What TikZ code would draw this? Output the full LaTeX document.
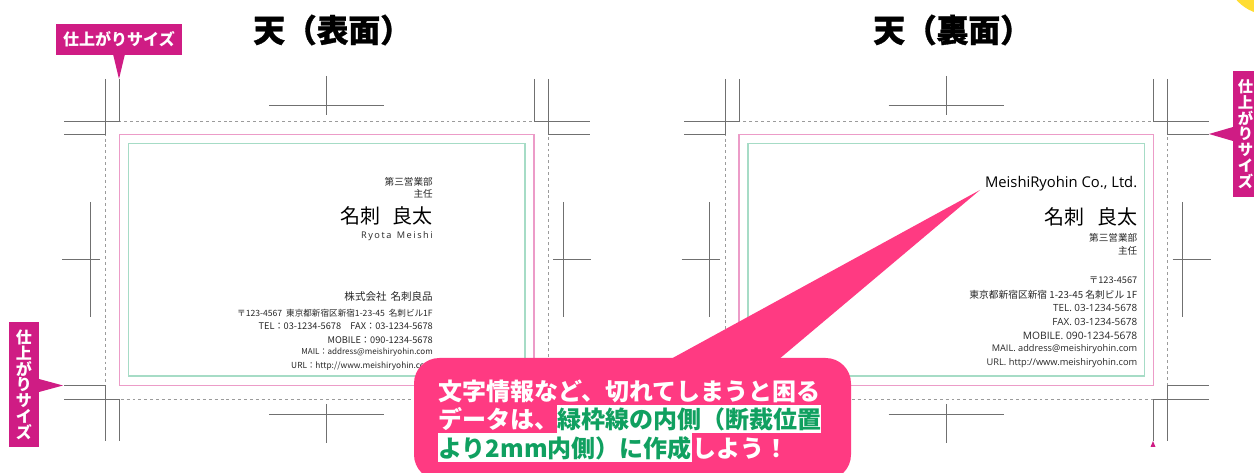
\documentclass[tikz,border=0pt]{standalone}
\usepackage{fontspec}
\setmainfont{Noto Sans CJK JP}
\newfontfamily\latinfont{Open Sans}
\usepackage{tikz}
\usetikzlibrary{positioning}
\definecolor{tagpink}{HTML}{CF1C84}
\definecolor{notepink}{HTML}{FF3A82}
\definecolor{trimpink}{HTML}{EC9CC8}
\definecolor{safegreen}{HTML}{A6DCC6}
\definecolor{markgray}{HTML}{707070}
\definecolor{notegreen}{HTML}{10A060}
\definecolor{corneryellow}{HTML}{FFDD33}
\tikzset{
	cropmark/.style={draw=markgray, line width=0.5pt},
	bleedline/.style={draw=markgray!70, line width=0.5pt, dash pattern=on 2.2pt off 2.2pt},
	title/.style={anchor=west, inner sep=0pt, font=\fontsize{23.8}{23.8}\selectfont\bfseries\addfontfeature{FakeBold=1}},
	tagbox/.style={fill=tagpink, text=white, inner sep=0pt, align=center, font=\fontsize{12}{12}\selectfont\bfseries},
	cardline/.style={anchor=east, inner sep=0pt, text=black!85, font=\fontsize{6.9}{6.9}\selectfont},
	cardsmall/.style={cardline, font=\fontsize{7.2}{7.2}\selectfont},
	cardname/.style={cardline, text=black, font=\fontsize{15}{15}\selectfont},
	cardlatin/.style={cardline, font=\fontsize{7.4}{7.4}\selectfont\latinfont},
	notetext/.style={anchor=west, inner sep=0pt, text=white, text height=18pt, text depth=3.2pt, font=\fontsize{18}{18}\selectfont\bfseries},
	notemark/.style={notetext, text=notegreen, fill=white}
}
\begin{document}
\begin{tikzpicture}[x=0.75pt, y=-0.75pt]
	\clip (0,0) rectangle (1254,473);

	\fill[corneryellow] (1270,-30) circle (45);

	% frames and marks, same for both sides
	\foreach \sideshift in {0,619.5} {
		\begin{scope}[xshift=\sideshift*0.75pt]
			\draw[bleedline] (105.5,121) rectangle (548,399);
			\draw[draw=trimpink, line width=0.8pt] (119.5,134.5) rectangle (534,385.5);
			\draw[draw=safegreen, line width=0.8pt] (128.5,143.5) rectangle (525,376);

			\draw[cropmark] (105.5,79) -- (105.5,134.5) -- (64,134.5);
			\draw[cropmark] (119.5,79) -- (119.5,121) -- (64,121);
			\draw[cropmark] (548,79) -- (548,134.5) -- (589.5,134.5);
			\draw[cropmark] (534,79) -- (534,121) -- (589.5,121);
			\draw[cropmark] (105.5,441) -- (105.5,385.5) -- (64,385.5);
			\draw[cropmark] (119.5,441) -- (119.5,399) -- (64,399);
			\draw[cropmark] (548,441) -- (548,385.5) -- (589.5,385.5);
			\draw[cropmark] (534,441) -- (534,399) -- (589.5,399);

			\draw[cropmark] (326.5,76) -- (326.5,115) (269,105) -- (384,105);
			\draw[cropmark] (326.5,404) -- (326.5,443) (269,414) -- (384,414);
			\draw[cropmark] (90,202) -- (90,317) (62,259.5) -- (100,259.5);
			\draw[cropmark] (563,202) -- (563,317) (553,259.5) -- (591,259.5);
		\end{scope}
	}

	\node[title] (frontTitle) at (253,30) {天（表面）};
	\node[title] (backTitle) at (873,30) {天（裏面）};

	% tags
	\node[tagbox, minimum width=94.5pt, minimum height=23pt] (topTag) at (119,39.2) {仕上がりサイズ};
	\fill[tagpink] (113,54) -- (125,54) -- (119,79) -- cycle;
	\node[tagbox, minimum width=22.5pt, minimum height=94pt] (leftTag) at (24,384.7) {仕\\[-.1pt]上\\[-.1pt]が\\[-.1pt]り\\[-.1pt]サ\\[-.1pt]イ\\[-.1pt]ズ};
	\fill[tagpink] (39,379) -- (39,392) -- (63,385.5) -- cycle;
	\fill[tagpink] (1233,71) rectangle (1254,197);
	\node[tagbox, fill=none, font=\fontsize{11.5}{12}\selectfont\bfseries] (rightTag) at (1245.5,134) {仕\\[-.1pt]上\\[-.1pt]が\\[-.1pt]り\\[-.1pt]サ\\[-.1pt]イ\\[-.1pt]ズ};
	\fill[tagpink] (1233,127) -- (1233,141) -- (1209,134) -- cycle;
	\fill[tagpink] (1153,441) -- (1150.5,447) -- (1155.5,447) -- cycle;

	% front card
	\node[cardsmall] (frontDept) at (433,182) {第三営業部};
	\node[cardsmall] (frontRole) at (433,194) {主任};
	\node[cardname] (frontName) at (433,216) {名刺\hspace{9.5pt}良太};
	\node[cardline, font=\fontsize{6.9}{6.9}\selectfont\latinfont] (frontRoman) at (433,236) {R\,y\,o\,t\,a\, \,M\,e\,i\,s\,h\,i};
	\node[cardline, font=\fontsize{7.9}{7.9}\selectfont] (frontCompany) at (433,297) {株式会社\hspace{3pt}名刺良品};
	\node[cardline, font=\fontsize{6.45}{6.45}\selectfont] (frontAddress) at (433,313) {〒123-4567\hspace{3pt}東京都新宿区新宿1-23-45\hspace{3pt}名刺ビル1F};
	\node[cardline] (frontTel) at (433,326.5) {TEL：03-1234-5678\hspace{7pt}FAX：03-1234-5678};
	\node[cardline] (frontMobile) at (433,340) {MOBILE：090-1234-5678};
	\node[cardline, font=\fontsize{6.05}{6.05}\selectfont] (frontMail) at (433,352.5) {MAIL：address@meishiryohin.com};
	\node[cardline, font=\fontsize{6.25}{6.25}\selectfont] (frontUrl) at (433,366) {URL：http://www.meishiryohin.com};

	% back card
	\node[cardline, font=\fontsize{11.1}{11.1}\selectfont\latinfont, text=black] (backCompany) at (1137.5,184) {MeishiRyohin Co., Ltd.};
	\node[cardname] (backName) at (1137.5,217) {名刺\hspace{9.5pt}良太};
	\node[cardsmall] (backDept) at (1137.5,238) {第三営業部};
	\node[cardsmall] (backRole) at (1137.5,251) {主任};
	\node[cardline] (backPost) at (1137.5,280) {〒123-4567};
	\node[cardline, font=\fontsize{7.3}{7.3}\selectfont] (backAddress) at (1137.5,294.5) {東京都新宿区新宿 1-23-45 名刺ビル 1F};
	\node[cardlatin] (backTel) at (1137.5,308) {TEL. 03-1234-5678};
	\node[cardlatin] (backFax) at (1137.5,322) {FAX. 03-1234-5678};
	\node[cardlatin, font=\fontsize{7.7}{7.7}\selectfont\latinfont] (backMobile) at (1137.5,336) {MOBILE. 090-1234-5678};
	\node[cardlatin, font=\fontsize{6.9}{6.9}\selectfont\latinfont] (backMail) at (1137.5,349.5) {MAIL. address@meishiryohin.com};
	\node[cardlatin, font=\fontsize{6.95}{6.95}\selectfont\latinfont] (backUrl) at (1137.5,363) {URL. http://www.meishiryohin.com};

	% callout
	\fill[notepink] (669,360) -- (980,190) -- (778,360) -- cycle;
	\fill[notepink, rounded corners=19pt] (414,358) rectangle (851,480);
	\node[notetext] (noteOne) at (438,391) {文字情報など、切れてしまうと困る};
	\node[notetext] (noteTwo) at (438,419) {データは、};
	\node[notemark] (noteThree) at (557,419) {緑枠線の内側（断裁位置};
	\node[notemark] (noteFour) at (438,447.5) {より2mm内側）に作成};
	\node[notetext, right=0pt of noteFour] (noteFive) {しよう！};
\end{tikzpicture}
\end{document}
